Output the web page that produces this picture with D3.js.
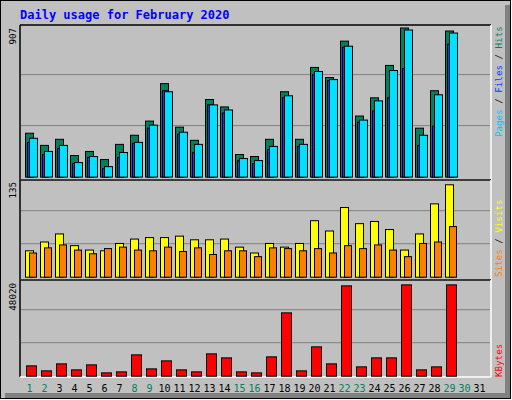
<!DOCTYPE html>
<meta charset="utf-8">
<style>
body{margin:0;}
text{font-family:"DejaVu Sans Mono",monospace;font-size:10px;}
.side{font-size:9.2px;}
</style>
<body>
<script src="https://d3js.org/d3.v7.min.js"></script>
<script>
var days=d3.range(1,32);
var weekend=[1,2,8,9,15,16,22,23,29,30];
var hits =[260,188,224,128,152,104,194,248,332,554,296,218,460,416,134,122,224,506,224,650,590,806,362,470,662,884,290,512,866];
var files=[206,134,170,80,116,50,116,200,290,512,254,146,428,380,98,80,164,470,182,608,572,770,326,392,470,644,188,302,788];
var pages=[230,152,188,86,122,62,146,206,308,506,266,194,428,398,110,98,182,482,194,626,578,776,338,452,632,872,248,488,854];
var visits=[36,48,59,43,37,36,46,52,54,54,56,51,51,52,41,33,46,41,46,77,63,95,73,76,65,37,59,100,126];
var sites=[33,40,44,37,32,39,41,37,36,41,35,40,31,36,36,28,40,39,36,39,33,43,39,44,37,28,46,48,69];
var kbytes=[5013,2587,5983,3072,5498,1617,2102,10349,3557,7438,3072,2102,10834,8894,2102,1617,9379,30723,2587,14230,5983,43821,4528,8894,8894,44306,3072,4528,44306];

var svg=d3.select("body").append("svg").attr("width",512).attr("height",400);
svg.append("rect").attr("width",512).attr("height",400).attr("fill","#fff");
svg.append("rect").attr("x",0.5).attr("y",0.5).attr("width",510).attr("height",398).attr("fill","#c0c0c0").attr("stroke","#000");
svg.append("rect").attr("x",505).attr("y",5).attr("width",5).attr("height",393).attr("fill","#808080");
svg.append("rect").attr("x",5).attr("y",393).attr("width",505).attr("height",5).attr("fill","#808080");

svg.append("text").attr("x",20).attr("y",19).attr("fill","#0000ff")
  .style("font-weight","bold").style("font-size","12px").text("Daily usage for February 2020");

var x=d3.scaleBand().domain(days).range([22,487]);

function panel(y0,y1){
  svg.append("line").attr("x1",20).attr("x2",491).attr("y1",y0).attr("y2",y0).attr("stroke","#000").attr("stroke-width",1.5);
  svg.append("line").attr("x1",20).attr("x2",20).attr("y1",y0).attr("y2",y1).attr("stroke","#000").attr("stroke-width",1.5);
  svg.append("line").attr("x1",491).attr("x2",491).attr("y1",y0).attr("y2",y1).attr("stroke","#fff").attr("stroke-width",1.5);
  svg.append("line").attr("x1",20).attr("x2",491).attr("y1",y1).attr("y2",y1).attr("stroke","#fff").attr("stroke-width",1.5);
}
function grid(y,max){
  [max/3,2*max/3].forEach(function(v){
    svg.append("line").attr("x1",21).attr("x2",490).attr("y1",y(v)).attr("y2",y(v)).attr("stroke","#808080");
  });
}
function bars(data,y,dx,w,fill){
  svg.append("g").selectAll("rect").data(data).join("rect")
    .attr("x",(d,i)=>x(days[i])+dx+0.5).attr("y",d=>y(d)+0.5)
    .attr("width",w).attr("height",d=>y(0)-y(d))
    .attr("fill",fill).attr("stroke","#000");
}
function leftLabel(t,ytop){
  svg.append("text").attr("class","side").attr("transform","translate(16,"+ytop+") rotate(-90)")
    .attr("text-anchor","end").attr("fill","#000").text(t);
}
function rightLabel(parts,ybot){
  var t=svg.append("text").attr("class","side").attr("transform","translate(502,"+ybot+") rotate(-90)");
  parts.forEach(p=>t.append("tspan").attr("fill",p[1]).text(p[0]));
}

// hits / files / pages
panel(25,180);
var y1=d3.scaleLinear().domain([0,907]).range([176.6,23.6]);
grid(y1,907);
bars(hits,y1,3,8,"#00805c");
bars(files,y1,5,6,"#0040ff");
bars(pages,y1,7,8,"#00e0ff");
leftLabel("907",28);
rightLabel([["Pages","#00c0ff"],[" / ","#000"],["Files","#0040ff"],[" / ","#000"],["Hits","#00805c"]],137);

// visits / sites
panel(180,280);
var y2=d3.scaleLinear().domain([0,135]).range([276.7,177.7]);
grid(y2,135);
bars(visits,y2,3,8,"#ffff00");
bars(sites,y2,7,7,"#ff8000");
leftLabel("135",182);
rightLabel([["Sites","#ff8000"],[" / ","#000"],["Visits","#ffff00"]],277);

// kbytes
panel(280,377);
var y3=d3.scaleLinear().domain([0,48020]).range([375.7,276.7]);
grid(y3,48020);
bars(kbytes,y3,4,10,"#ff0000");
leftLabel("48020",283);
rightLabel([["KBytes","#ff0000"]],377);

svg.append("g").selectAll("text").data(days).join("text")
  .attr("x",d=>x(d)+x.bandwidth()/2).attr("y",392).attr("text-anchor","middle")
  .attr("fill",d=>weekend.includes(d)?"#00805c":"#000").text(d=>d);
</script>
</body>
